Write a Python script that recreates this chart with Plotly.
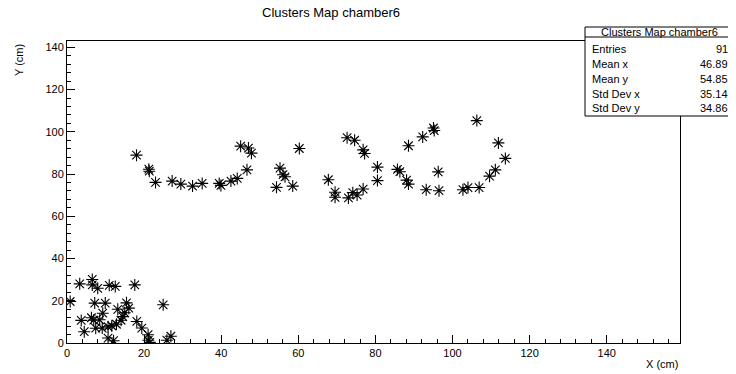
import plotly.graph_objects as go

# ---- data (cm) ----
x_cm = [18.03, 21.22, 21.35, 22.96, 27.27, 29.53, 32.57, 35.06, 39.48, 39.92,
        42.52, 44.16, 46.68, 45.04, 47.06, 47.84, 55.25, 56.03, 56.55, 54.34,
        58.55, 60.26, 67.79, 69.53, 69.53, 72.99, 74.13, 75.25, 76.81, 72.65,
        74.60, 76.81, 77.19, 80.52, 80.52, 85.71, 86.34, 88.08, 88.57, 88.57,
        92.26, 95.06, 95.25, 96.29, 93.17, 96.49, 102.7, 104.0, 106.9, 106.3,
        111.9, 113.7, 111.1, 109.6,
        0.83, 3.30, 6.55, 6.55, 7.97, 10.96, 12.52, 17.58, 7.19, 9.92,
        9.27, 3.69, 6.34, 6.94, 8.49, 4.47, 7.45, 9.14, 10.65, 11.61,
        12.83, 13.17, 14.03, 14.47, 15.43, 16.03, 14.99, 18.10, 19.40, 21.04,
        21.09, 21.48, 24.94, 25.90, 26.94, 10.65, 12.08]
y_cm = [88.95, 82.30, 81.35, 76.05, 76.67, 75.25, 74.30, 75.58, 75.58, 74.63,
        76.67, 77.94, 82.00, 93.20, 92.30, 89.90, 82.80, 79.70, 78.70, 73.70,
        74.30, 92.10, 77.30, 71.40, 69.00, 68.70, 71.20, 70.05, 72.90, 97.20,
        96.00, 91.45, 89.75, 83.30, 76.90, 82.20, 81.10, 77.10, 75.25, 93.40,
        97.60, 101.8, 100.6, 81.05, 72.60, 72.10, 72.60, 73.60, 73.60, 105.3,
        94.75, 87.40, 82.00, 79.00,
        19.65, 28.00, 30.10, 27.50, 25.90, 27.30, 26.80, 27.50, 18.90, 18.90,
        14.10, 10.70, 11.95, 10.80, 11.00, 5.34, 7.00, 7.09, 7.70, 8.17,
        8.88, 15.97, 10.77, 12.50, 19.00, 16.50, 14.30, 10.20, 7.09, 3.92,
        1.32, 0.30, 18.10, 1.32, 3.20, 2.36, 1.09]

title_text = "Clusters Map chamber6"
stat_names = ["Entries", "Mean x", "Mean y", "Std Dev x", "Std Dev y"]
stat_values = ["91", "46.89", "54.85", "35.14", "34.86"]

# page body has an 8px default margin; figure is placed at (8, 8)
OFF = 8
W, H = 736 - OFF, 374 - OFF
# plot frame in page pixels: left 67, right 680, top 41, bottom 343
ML = 67 - OFF
MT = 41 - OFF
MR = W - (680 - OFF)
MB = H - (343 - OFF)
PW, PH = W - ML - MR, H - MT - MB

def px(xp):
    return (xp - OFF - ML) / PW

def py(yp):
    return 1 - (yp - OFF - MT) / PH

FONT = "Liberation Sans, Arial, Helvetica, sans-serif"

fig = go.Figure()
fig.add_trace(go.Scatter(
    x=x_cm, y=y_cm, mode="markers",
    marker=dict(symbol="asterisk-open", size=10, color="black",
                line=dict(color="black", width=1.1)),
    showlegend=False, hoverinfo="x+y"))

axis_common = dict(
    showgrid=False, zeroline=False, showline=True, linecolor="black",
    linewidth=1, mirror=True, ticks="inside", ticklen=8, tickcolor="black",
    tickwidth=1, dtick=20, tick0=0,
    minor=dict(ticks="inside", ticklen=4, dtick=4, tickcolor="black", tickwidth=1),
    tickfont=dict(family=FONT, size=11, color="black"))

fig.update_xaxes(range=[0, 159], **axis_common)
fig.update_yaxes(range=[0, 143], **axis_common)

ann = []
# main title
ann.append(dict(x=px(331), y=py(12), xref="paper", yref="paper", text=title_text,
                showarrow=False, font=dict(family=FONT, size=13, color="black"),
                xanchor="center", yanchor="middle"))
# axis titles
ann.append(dict(x=px(680), y=py(364), xref="paper", yref="paper", text="X (cm)",
                showarrow=False, font=dict(family=FONT, size=11, color="black"),
                xanchor="right", yanchor="middle"))
ann.append(dict(x=px(19), y=py(42), xref="paper", yref="paper", text="Y (cm)",
                showarrow=False, textangle=-90,
                font=dict(family=FONT, size=11, color="black"),
                xanchor="center", yanchor="top"))

# stats box
bx0, bx1, by0, by1 = 585, 734, 27, 116
sep = 37
shapes = [
    dict(type="rect", xref="paper", yref="paper", x0=px(bx0), x1=px(bx1),
         y0=py(by1), y1=py(by0), line=dict(color="black", width=1),
         fillcolor="white", layer="above"),
    dict(type="line", xref="paper", yref="paper", x0=px(bx0), x1=px(bx1),
         y0=py(sep), y1=py(sep), line=dict(color="black", width=1), layer="above"),
]
ann.append(dict(x=px((bx0 + bx1) / 2), y=py(32), xref="paper", yref="paper",
                text=title_text, showarrow=False,
                font=dict(family=FONT, size=11, color="black"),
                xanchor="center", yanchor="middle"))
row_y = [49, 64, 79, 94, 108.5]
for name, val, ry in zip(stat_names, stat_values, row_y):
    ann.append(dict(x=px(590), y=py(ry), xref="paper", yref="paper", text=name,
                    showarrow=False, font=dict(family=FONT, size=11, color="black"),
                    xanchor="left", yanchor="middle"))
    ann.append(dict(x=px(730), y=py(ry), xref="paper", yref="paper", text=val,
                    showarrow=False, font=dict(family=FONT, size=11, color="black"),
                    xanchor="right", yanchor="middle"))

fig.update_layout(
    width=W, height=H, margin=dict(l=ML, r=MR, t=MT, b=MB, autoexpand=False),
    paper_bgcolor="white", plot_bgcolor="white",
    annotations=ann, shapes=shapes, showlegend=False)

fig.write_html("out.html")
